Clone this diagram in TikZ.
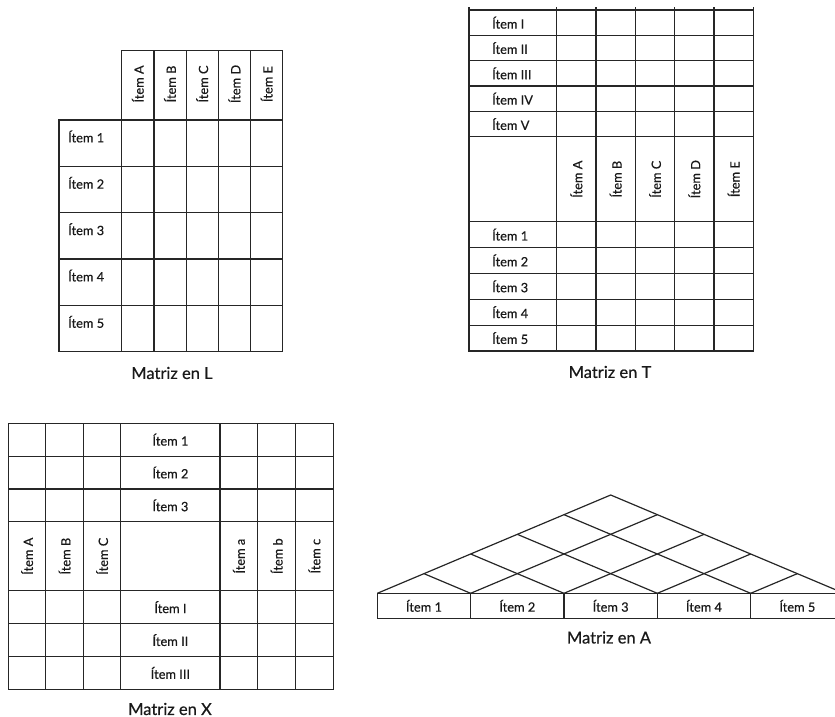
\documentclass[tikz,border=0pt]{standalone}
\usepackage{fontspec}
\setmainfont{Lato}[FakeBold=0.5]
\usepackage{tikz}

\begin{document}
\begin{tikzpicture}[x=1pt, y=-1pt]
  \tikzstyle{grid} = [draw=black!85, line width=1.2pt]
  \tikzstyle{item} = [font=\fontsize{12.8}{14}\selectfont, text=black!90, inner sep=0pt]
  \tikzstyle{itemv} = [item, rotate=90]
  \tikzstyle{caption} = [font=\fontsize{16.5}{18}\selectfont, text=black!90, inner sep=0pt]

  \useasboundingbox (0,0) rectangle (835,717);

  % Matriz en L
  \draw[grid] (121.7,50.7) rectangle (282.7,351.7);
  \draw[grid] (59,120) rectangle (282.7,351.7);
  \foreach \x in {153.9,186.1,218.3,250.5} \draw[grid] (\x,50.7) -- (\x,351.7);
  \foreach \y in {166.3,212.7,259,305.4} \draw[grid] (59,\y) -- (282.7,\y);
  \foreach \n [count=\i] in {1,...,5}
    \node[item, anchor=west] (l_row\i) at (68, {136.5+46.34*(\i-1)}) {Ítem \n};
  \foreach \c [count=\i] in {A,B,C,D,E}
    \node[itemv] (l_col\c) at ({121.7+32.2*(\i-0.5)}, 84) {Ítem \c};
  \node[caption] (cap_l) at (172,373) {Matriz en L};

  % Matriz en T
  \draw[grid] (469,10) rectangle (753.3,351);
  \foreach \x in {469,556.7,596,635.3,674.6,713.9,753.3} \draw[grid] (\x,7.5) -- (\x,351);
  \foreach \y in {35.3,60.7,86,111.3,136.7,221.7,247.6,273.4,299.3,325.1}
    \draw[grid] (469,\y) -- (753.3,\y);
  \foreach \n [count=\i] in {I,II,III,IV,V}
    \node[item, anchor=west] (t_top\i) at (492, {22.7+25.33*(\i-1)}) {Ítem \n};
  \foreach \c [count=\i] in {A,B,C,D,E}
    \node[itemv] (t_col\c) at ({556.7+39.32*(\i-0.5)}, 179.2) {Ítem \c};
  \foreach \n [count=\i] in {1,...,5}
    \node[item, anchor=west] (t_bot\i) at (492, {234.6+25.86*(\i-1)}) {Ítem \n};
  \node[caption] (cap_t) at (610,372) {Matriz en T};

  % Matriz en X
  \draw[grid] (8.3,423.3) rectangle (333.3,689.3);
  \foreach \x in {45.8,83.3,120.8,220,257.8,295.6} \draw[grid] (\x,423.3) -- (\x,689.3);
  \foreach \y in {456.1,488.9,521.7,590.7,623.6,656.4} \draw[grid] (8.3,\y) -- (333.3,\y);
  \foreach \n [count=\i] in {1,2,3}
    \node[item] (x_top\i) at (170.4, {439.7+32.8*(\i-1)}) {Ítem \n};
  \foreach \n [count=\i] in {I,II,III}
    \node[item] (x_bot\i) at (170.4, {607.2+32.85*(\i-1)}) {Ítem \n};
  \foreach \c [count=\i] in {A,B,C}
    \node[itemv] (x_left\c) at ({8.3+37.5*(\i-0.5)}, 556.2) {Ítem \c};
  \foreach \c [count=\i] in {a,b,c}
    \node[itemv] (x_right\c) at ({220+37.77*(\i-0.5)}, 556.2) {Ítem \c};
  \node[caption] (cap_x) at (170,709) {Matriz en X};

  % Matriz en A
  \draw[grid] (377.3,593.3) rectangle (844,618.3);
  \foreach \x in {470.6,564,657.3,750.7} \draw[grid] (\x,593.3) -- (\x,618.3);
  \draw[grid] (377.3,593.3) -- (610.7,495) -- (844,593.3);
  \foreach \k in {1,...,4} {
    \draw[grid] ({377.3+93.34*\k},593.3) -- ({377.3+46.67*(\k+5)},{593.3-19.66*(5-\k)});
    \draw[grid] ({377.3+93.34*\k},593.3) -- ({377.3+46.67*\k},{593.3-19.66*\k});
  }
  \foreach \n [count=\i] in {1,...,5}
    \node[item] (a_item\i) at ({377.3+93.34*(\i-0.5)}, 605.8) {Ítem \n};
  \node[caption] (cap_a) at (609,637.5) {Matriz en A};
\end{tikzpicture}
\end{document}
